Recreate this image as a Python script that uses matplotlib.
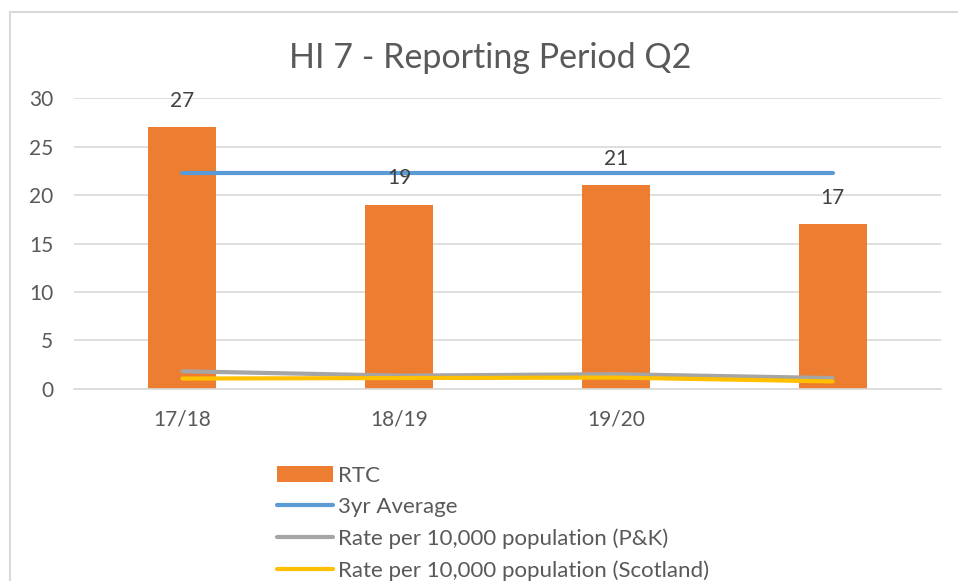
import matplotlib.pyplot as plt
from matplotlib.lines import Line2D
import numpy as np

plt.rcParams['font.family'] = ['Lato', 'DejaVu Sans']

categories = ['17/18', '18/19', '19/20', '']
rtc = [27, 19, 21, 17]
avg_3yr = [22.33, 22.33, 22.33, 22.33]
rate_pk = [1.8, 1.35, 1.5, 1.1]
rate_scotland = [1.05, 1.1, 1.15, 0.75]
y_ticks = [0, 5, 10, 15, 20, 25, 30]

W, H = 958, 581
fig = plt.figure(figsize=(W / 100, H / 100), dpi=100)
ax = fig.add_axes([74 / W, 1 - 388.7 / H, (941 - 74) / W, (388.7 - 98.3) / H])

text_col = '#595959'
x = np.arange(len(categories))

bars = ax.bar(x, rtc, width=0.314, color='#ED7D31', label='RTC', zorder=2)
l_avg, = ax.plot(x, avg_3yr, color='#5B9BD5', lw=3, solid_capstyle='round',
                 label='3yr Average', zorder=3)
l_pk, = ax.plot(x, rate_pk, color='#A5A5A5', lw=3, solid_capstyle='round',
                label='Rate per 10,000 population (P&K)', zorder=3)
l_sc, = ax.plot(x, rate_scotland, color='#FFC000', lw=3, solid_capstyle='round',
                label='Rate per 10,000 population (Scotland)', zorder=4)

for xi, v in zip(x, rtc):
    ax.annotate(str(v), (xi, v), xytext=(0, 19), textcoords='offset points',
                ha='center', va='center', fontsize=15, color='#404040')

ax.set_xlim(-0.5, len(categories) - 0.5)
ax.set_ylim(0, 30)
ax.set_yticks(y_ticks)
ax.set_xticks(x)
ax.set_xticklabels(categories)
ax.tick_params(axis='both', length=0, labelsize=15, labelcolor=text_col)
ax.tick_params(axis='y', pad=15)
ax.tick_params(axis='x', pad=15)
ax.grid(axis='y', color='#D9D9D9', lw=1.2, zorder=0)
ax.set_axisbelow(True)
for s in ['top', 'right', 'left']:
    ax.spines[s].set_visible(False)
ax.spines['bottom'].set_color('#D9D9D9')
ax.spines['bottom'].set_linewidth(1.2)

fig.text(490 / W, 1 - 58 / H, 'HI 7 - Reporting Period Q2', ha='center', va='center',
         fontsize=24.5, color=text_col)

fig.legend([bars, l_avg, l_pk, l_sc],
           ['RTC', '3yr Average', 'Rate per 10,000 population (P&K)',
            'Rate per 10,000 population (Scotland)'],
           loc='upper left', bbox_to_anchor=(277 / W, 1 - 466 / H), frameon=False,
           fontsize=16, handlelength=2.5, handletextpad=0.25, labelspacing=0.5,
           borderpad=0, borderaxespad=0, labelcolor=text_col)

# chart border (only top and left edges visible)
fig.add_artist(Line2D([10 / W, 10 / W], [0, 1 - 12 / H], color='#D9D9D9', lw=1.5,
                      transform=fig.transFigure))
fig.add_artist(Line2D([10 / W, 1], [1 - 12 / H, 1 - 12 / H], color='#D9D9D9', lw=1.5,
                      transform=fig.transFigure))

fig.savefig('out.png', dpi=100)
